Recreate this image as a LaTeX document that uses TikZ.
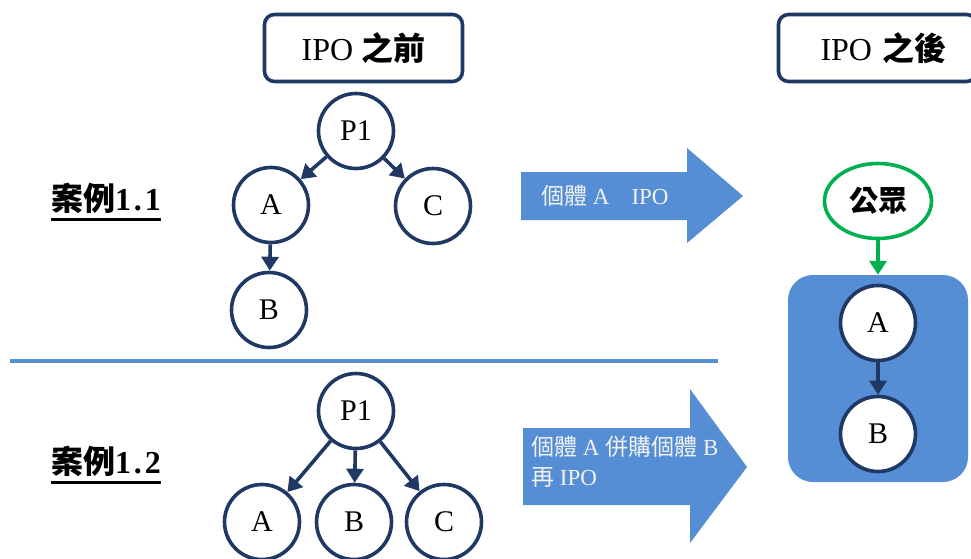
\documentclass[tikz,border=0pt]{standalone}
\usepackage{fontspec}
\setmainfont{Liberation Serif}
\newfontfamily\cjk{Noto Sans CJK TC}
\usetikzlibrary{arrows.meta,shapes.geometric}
\definecolor{navy}{RGB}{31,56,100}
\definecolor{blockblue}{RGB}{85,142,213}
\definecolor{pubgreen}{RGB}{0,176,80}
\definecolor{lighttext}{RGB}{242,242,242}
\tikzset{
  ent/.style={circle,draw=navy,fill=white,line width=3.6pt,minimum size=75pt,inner sep=0pt,font=\fontsize{30}{30}\selectfont},
  hdr/.style={draw=navy,line width=3.6pt,rounded corners=10pt,minimum width=198pt,minimum height=67pt,fill=white,font=\fontsize{32}{32}\selectfont},
  caselbl/.style={inner sep=0pt,font=\fontsize{32}{32}\selectfont\bfseries},
  link/.style={draw=navy,line width=3.6pt,-{Triangle[width=17pt,length=14pt]}},
  glink/.style={draw=pubgreen,line width=3.6pt,-{Triangle[width=17pt,length=14pt]}},
  arrtxt/.style={text=lighttext,font=\fontsize{23}{30}\selectfont,inner sep=0pt},
}
\begin{document}
\begin{tikzpicture}[x=1pt,y=-1pt]
\useasboundingbox (0,0) rectangle (971,559);
\clip (0,0) rectangle (971,559);
% headers
\node[hdr] (hbefore) at (363.5,48) {IPO {\cjk\bfseries 之前}};
\node[hdr,text width=180pt,align=left] (hafter) at (877.5,48) {\hspace*{33pt}IPO {\cjk\bfseries 之後}};
% case labels
\node[caselbl] (c1) at (106,198) {{\cjk 案例}1\kern3pt.\kern3pt1};
\node[caselbl] (c2) at (106,461) {{\cjk 案例}1\kern3pt.\kern3pt2};
\draw[line width=2.5pt] ([yshift=-6pt]c1.south west) -- ([yshift=-6pt]c1.south east);
\draw[line width=2.5pt] ([yshift=-6pt]c2.south west) -- ([yshift=-6pt]c2.south east);
% divider
\draw[blockblue,line width=3.5pt] (10,361) -- (718,361);
% top tree
\node[ent] (tp) at (356,131) {P1};
\node[ent] (ta) at (271,205) {A};
\node[ent] (tc) at (433,206) {C};
\node[ent] (tb) at (269,310) {B};
\draw[link] (tp) -- (ta);
\draw[link] (tp) -- (tc);
\draw[link] (ta) -- (tb);
% bottom tree
\node[ent] (bp) at (356,411) {P1};
\node[ent] (ba) at (262,522) {A};
\node[ent] (bb) at (354,522) {B};
\node[ent] (bc) at (444,522) {C};
\draw[link] (bp) -- (ba);
\draw[link] (bp) -- (bb);
\draw[link] (bp) -- (bc);
% block arrows
\fill[blockblue] (521,172) -- (687,172) -- (687,148) -- (743,196) -- (687,243) -- (687,220) -- (521,220) -- cycle;
\node[arrtxt,anchor=west] (t1) at (541,196) {{\cjk 個體} A\hspace{22pt}IPO};
\fill[blockblue] (523,428) -- (690,428) -- (690,389) -- (747,467) -- (690,543) -- (690,505) -- (523,505) -- cycle;
\node[arrtxt,anchor=west,align=left] (t2) at (531,462) {{\cjk 個體} A {\cjk 併購個體} B\\{\cjk 再} IPO};
% right panel
\node[ellipse,draw=pubgreen,line width=3.6pt,fill=white,minimum width=107pt,minimum height=75pt,inner sep=0pt,font=\fontsize{29}{30}\selectfont\cjk\bfseries] (pub) at (878,201) {公眾};
\node[fill=blockblue,rounded corners=25pt,minimum width=180pt,minimum height=207pt,inner sep=0pt] (grp) at (878,378.5) {};
\draw[glink] (pub) -- (grp);
\node[ent] (ra) at (878,323) {A};
\node[ent] (rb) at (878,434) {B};
\draw[link] (ra) -- (rb);
\end{tikzpicture}
\end{document}
